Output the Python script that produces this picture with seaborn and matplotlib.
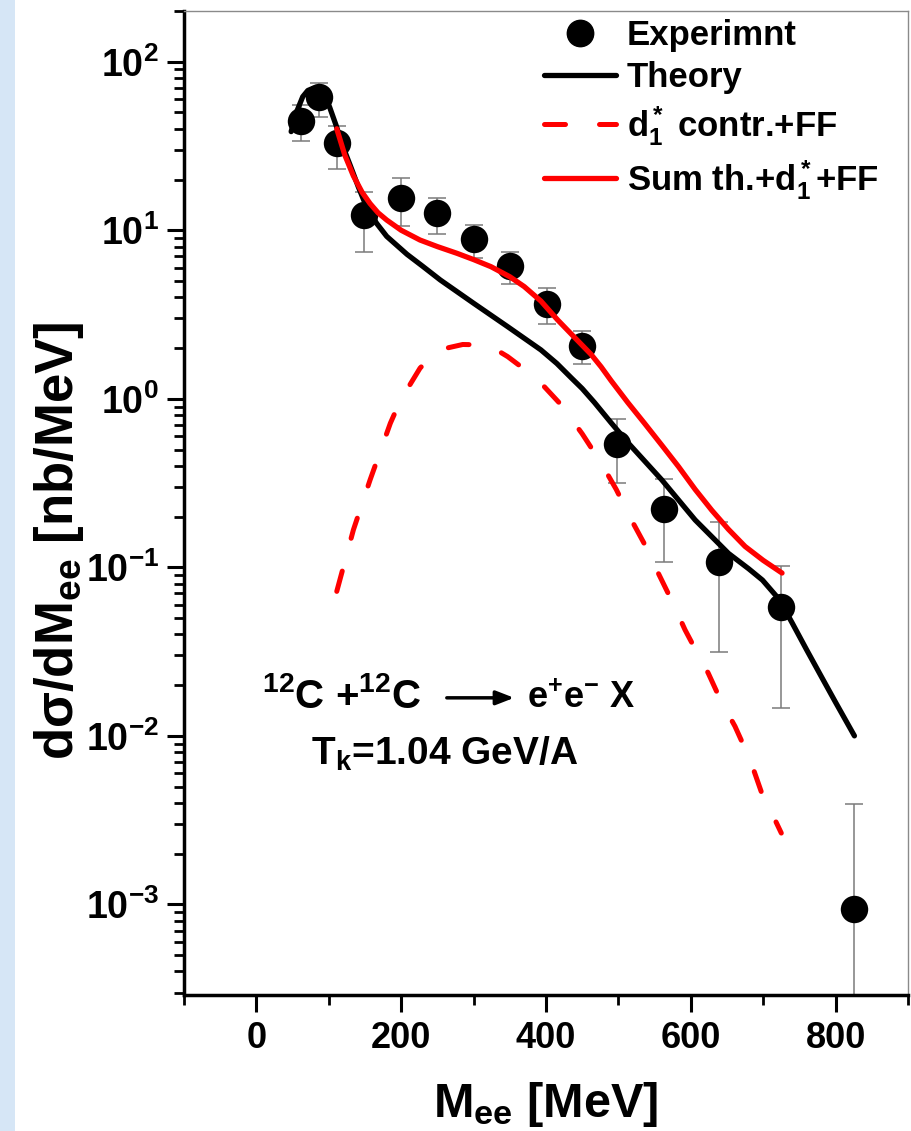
import numpy as np
import pandas as pd
import matplotlib
matplotlib.use("Agg")
import matplotlib.pyplot as plt
import seaborn as sns
from matplotlib import font_manager
from matplotlib.ticker import MultipleLocator, FixedLocator, FixedFormatter, LogLocator, NullFormatter
from matplotlib.lines import Line2D
from matplotlib.patches import Rectangle

# ---------------- data ----------------
exp_x = [62, 87, 112, 149, 200, 250, 300, 350, 401, 450, 498, 563, 639, 725, 826]
exp_y = [44.5, 62, 32.8, 12.3, 15.5, 12.6, 8.85, 6.14, 3.66, 2.07, 0.54, 0.221, 0.108, 0.0583, 9.4e-4]
exp_hi = [55, 74.5, 41.6, 16.9, 20.3, 15.6, 10.7, 7.46, 4.53, 2.53, 0.757, 0.333, 0.185, 0.102, 3.94e-3]
exp_lo = [33.9, 47.2, 23.0, 7.46, 10.6, 9.5, 6.8, 4.79, 2.77, 1.60, 0.318, 0.108, 0.0316, 0.0146, 1e-6]

theory_x = [48, 56, 64, 71, 78, 85, 92, 101, 110, 120, 130, 141, 152, 166, 180, 208, 230, 254,
            300, 347, 393, 415, 435, 450, 467, 490, 513, 560, 606, 652, 680, 699, 722, 740,
            760, 780, 800, 826]
theory_y = [38.5, 51, 62, 67.5, 69.5, 68, 65, 54, 42, 31, 24, 18, 13.8, 11, 9.2, 7.2, 6.1, 5.07,
            3.69, 2.68, 1.95, 1.62, 1.33, 1.15, 0.95, 0.72, 0.55, 0.33, 0.191, 0.121, 0.098,
            0.084, 0.0646, 0.0468, 0.0324, 0.0226, 0.0158, 0.01]

sum_x = [111, 122, 134, 146, 157, 168, 180, 200, 226, 250, 277, 300, 324, 350, 370, 393, 416,
         440, 462, 476, 490, 513, 536, 560, 583, 606, 629, 652, 675, 700, 726]
sum_y = [40, 28, 21, 16.8, 14.4, 12.7, 11.5, 10.0, 8.75, 8.0, 7.3, 6.7, 6.08, 5.3, 4.63, 3.8,
         2.94, 2.3, 1.84, 1.55, 1.28, 0.95, 0.716, 0.53, 0.396, 0.29, 0.218, 0.168, 0.133,
         0.11, 0.0925]

d1_x = [111, 134, 157, 185, 199, 226, 245, 263, 285, 310, 330, 347, 370, 393, 421, 450, 476,
        497, 518, 537, 555, 574, 592, 609, 624, 642, 661, 682, 701, 713, 725]
d1_y = [0.072, 0.167, 0.33, 0.716, 0.98, 1.52, 1.85, 2.0, 2.1, 2.09, 1.97, 1.78, 1.5, 1.24,
        0.92, 0.62, 0.417, 0.29, 0.191, 0.135, 0.0925, 0.063, 0.0426, 0.031, 0.0236, 0.016,
        0.0114, 0.0072, 0.0042, 0.0034, 0.00265]

legend_labels = ["Experimnt", "Theory", r"d$_1^*$ contr.+FF", r"Sum th.+d$_1^*$+FF"]
ytick_vals = [1e-3, 1e-2, 1e-1, 1e0, 1e1, 1e2]
ytick_labels = [r"$10^{-3}$", r"$10^{-2}$", r"$10^{-1}$", r"$10^{0}$", r"$10^{1}$", r"$10^{2}$"]
xtick_vals = [0, 200, 400, 600, 800]

# ---------------- style ----------------
sns.set_theme(style="white")
plt.rcParams["font.family"] = ["Liberation Sans", "DejaVu Sans"]
plt.rcParams["font.weight"] = "bold"
for k in ["text.color", "axes.labelcolor", "xtick.color", "ytick.color"]:
    plt.rcParams[k] = "black"
plt.rcParams["mathtext.fontset"] = "custom"
plt.rcParams["mathtext.rm"] = "Liberation Sans:bold"
plt.rcParams["mathtext.bf"] = "Liberation Sans:bold"
plt.rcParams["mathtext.it"] = "Liberation Sans:bold"
plt.rcParams["mathtext.default"] = "bf"

font_names = {f.name for f in font_manager.fontManager.ttflist}
narrow = "Liberation Sans Narrow" in font_names

W, H = 912, 1131
fig = plt.figure(figsize=(W / 100, H / 100), dpi=100)
fig.patch.set_facecolor("white")
fig.patches.append(Rectangle((0, 0), 15 / W, 1, transform=fig.transFigure,
                             facecolor="#d6e6f6", edgecolor="none", zorder=0))

L, R, T, B = 184, 908, 11, 995
ax = fig.add_axes([L / W, 1 - B / H, (R - L) / W, (B - T) / H])
ax.set_facecolor("white")
ax.set_yscale("log")

df_exp = pd.DataFrame({"x": exp_x, "y": exp_y, "lo": exp_lo, "hi": exp_hi})
yerr = [df_exp["y"] - df_exp["lo"], df_exp["hi"] - df_exp["y"]]
ax.errorbar(df_exp["x"], df_exp["y"], yerr=yerr, fmt="none", ecolor="#7a7a7a",
            elinewidth=1.1, capsize=6.5, capthick=1.1, zorder=2)
sns.scatterplot(data=df_exp, x="x", y="y", ax=ax, s=390, color="black",
                linewidth=0, zorder=3, legend=False)

sns.lineplot(x=theory_x, y=theory_y, ax=ax, color="black", lw=3.8, sort=False,
             zorder=4, solid_capstyle="round", solid_joinstyle="round")
sns.lineplot(x=d1_x, y=d1_y, ax=ax, color="#ff0000", lw=3.6, sort=False, zorder=4,
             linestyle=(0, (4.2, 6.8)), dash_capstyle="round")
sns.lineplot(x=sum_x, y=sum_y, ax=ax, color="#ff0000", lw=3.8, sort=False, zorder=5,
             solid_capstyle="round", solid_joinstyle="round")

ax.set_xlim(-100, 900)
ax.set_ylim(2.9e-4, 200)

ax.xaxis.set_major_locator(FixedLocator(xtick_vals))
ax.xaxis.set_minor_locator(MultipleLocator(100))
ax.yaxis.set_major_locator(FixedLocator(ytick_vals))
ax.yaxis.set_major_formatter(FixedFormatter(ytick_labels))
ax.yaxis.set_minor_locator(LogLocator(base=10, subs=np.arange(2, 10)))
ax.yaxis.set_minor_formatter(NullFormatter())

ax.tick_params(axis="both", which="major", direction="out", length=12, width=2.2,
               color="black", top=False, right=False, left=True, bottom=True)
ax.tick_params(axis="both", which="minor", direction="out", length=7, width=2.0,
               color="black", top=False, right=False, left=True, bottom=True)
ax.tick_params(axis="y", which="major", labelsize=27, pad=6)
ax.tick_params(axis="x", which="major", labelsize=31 if narrow else 26, pad=7)
for lab in ax.get_yticklabels():
    lab.set_fontweight("bold")
for lab in ax.get_xticklabels():
    lab.set_fontweight("bold")
    if narrow:
        lab.set_family(["Liberation Sans Narrow", "Liberation Sans"])

for side in ["left", "bottom"]:
    ax.spines[side].set_linewidth(2.5)
    ax.spines[side].set_color("black")
for side in ["top", "right"]:
    ax.spines[side].set_linewidth(1.0)
    ax.spines[side].set_color("#8a8a8a")

ax.set_xlabel(r"M$_{ee}$ [MeV]", fontsize=35, fontweight="bold")
ax.xaxis.set_label_coords(0.5, -0.086)
ax.set_ylabel(r"d$\sigma$/dM$_{ee}$ [nb/MeV]", fontsize=38, fontweight="bold")
ax.yaxis.set_label_coords(-0.136, 0.462)

# annotations
ax.text(0.108, 0.292, r"$^{12}$C +$^{12}$C", transform=ax.transAxes, fontsize=29,
        fontweight="bold", va="baseline", ha="left")
ax.annotate("", xy=(0.456, 0.302), xytext=(0.363, 0.302), xycoords="axes fraction",
            arrowprops=dict(arrowstyle="-|>,head_length=0.9,head_width=0.35", lw=2.5,
                            color="black", shrinkA=0, shrinkB=0))
ax.text(0.474, 0.292, r"$e^{+}e^{-}$ X", transform=ax.transAxes, fontsize=26,
        fontweight="bold", va="baseline", ha="left")
ax.text(0.176, 0.234, r"T$_k$=1.04 GeV/A", transform=ax.transAxes, fontsize=28,
        fontweight="bold", va="baseline", ha="left")

handles = [
    Line2D([], [], marker="o", color="black", linestyle="none", markersize=19),
    Line2D([], [], color="black", lw=3.8),
    Line2D([], [], color="#ff0000", lw=3.6, linestyle=(0, (4.2, 6.8)), dash_capstyle="round"),
    Line2D([], [], color="#ff0000", lw=3.8),
]
leg = ax.legend(handles, legend_labels, loc="upper left", bbox_to_anchor=(0.475, 1.008),
                frameon=False, fontsize=25, handlelength=2.1, handletextpad=0.3,
                labelspacing=0.28, borderaxespad=0.05)
for t in leg.get_texts():
    t.set_fontweight("bold")

fig.savefig("out.png", dpi=100, facecolor=fig.get_facecolor())
